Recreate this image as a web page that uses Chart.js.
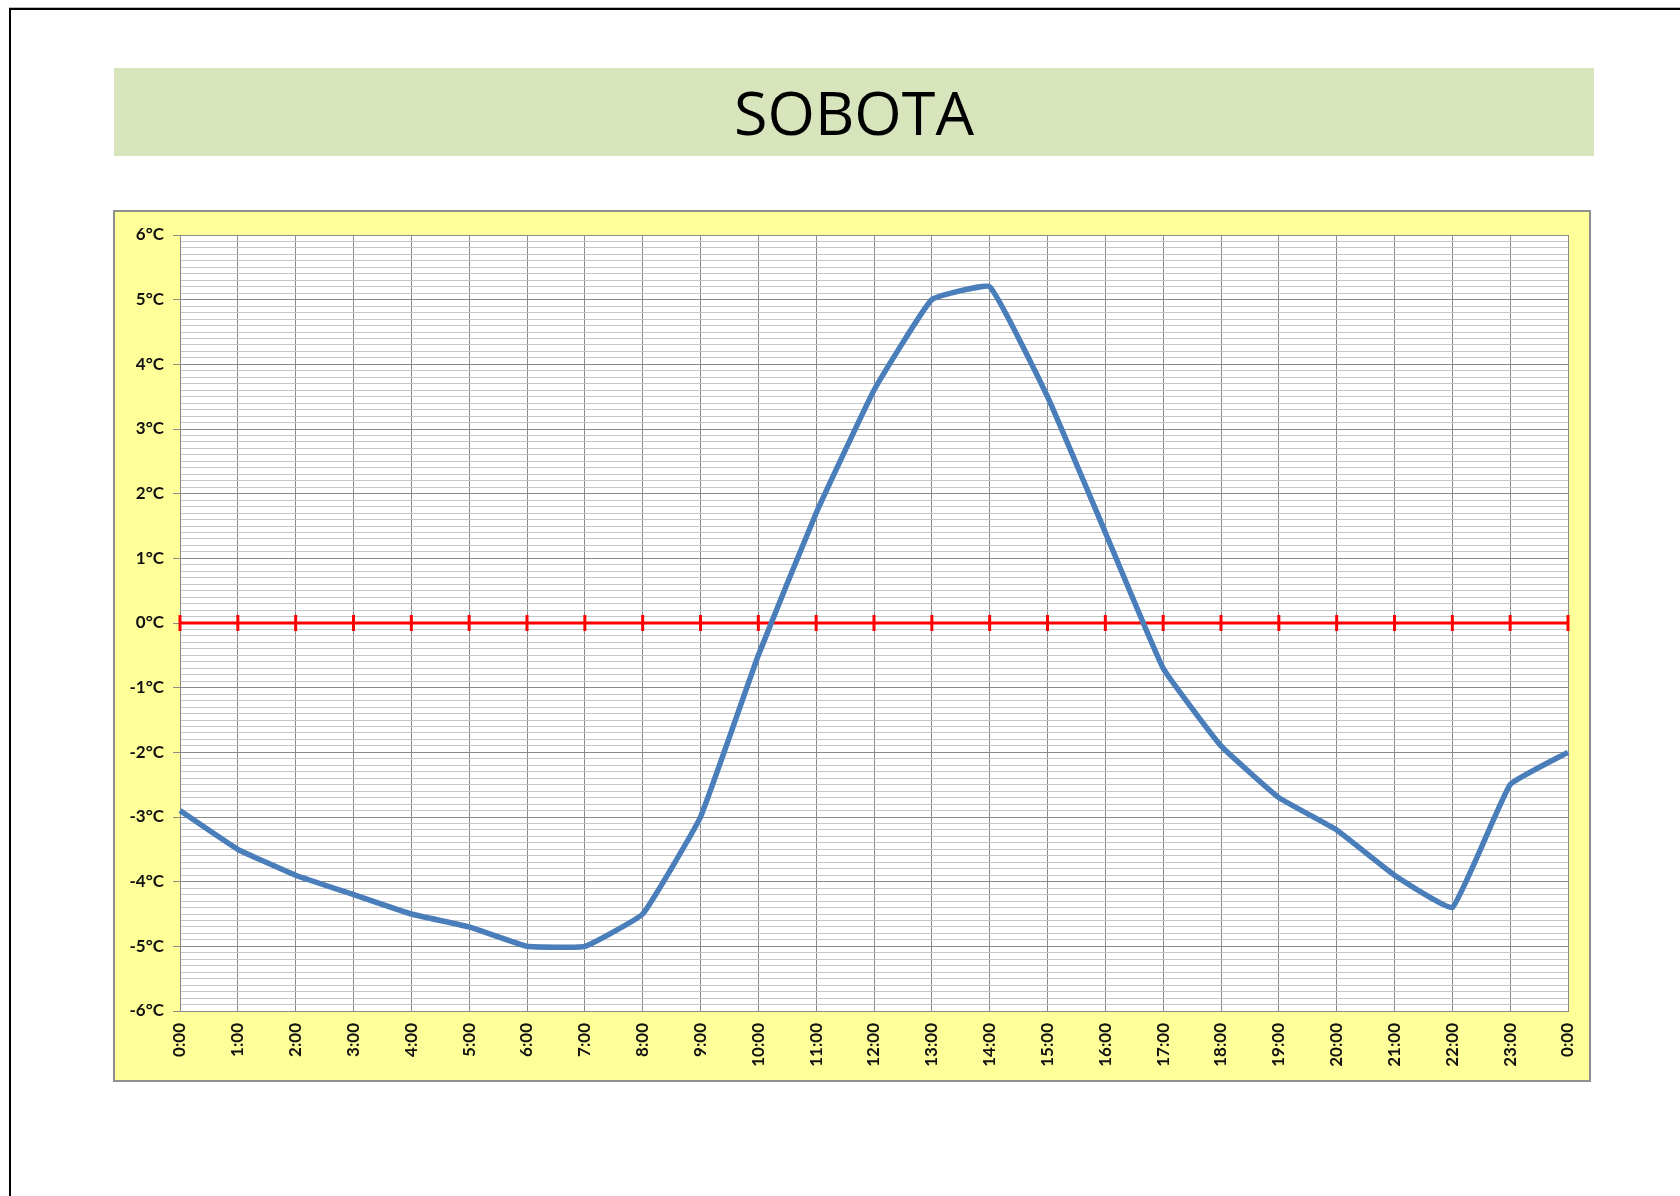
<!DOCTYPE html>
<html>
<head>
<meta charset="utf-8">
<title>SOBOTA</title>
<script src="https://cdn.jsdelivr.net/npm/chart.js@4/dist/chart.umd.min.js"></script>
<style>
  html, body { margin: 0; padding: 0; background: #fff; }
  body { width: 1680px; height: 1196px; position: relative; overflow: hidden; }
  .page {
    position: absolute; left: 9px; top: 8px; width: 1700px; height: 1220px;
    border-left: 2px solid #000; border-top: 2px solid #000;
    box-shadow: 0 -1px 0 #bbb;
  }
  .title {
    position: absolute; left: 114px; top: 68px; width: 1480px; height: 88px;
    background: #D7E4BC;
    font-family: 'Open Sans', sans-serif; font-size: 61px; color: #000;
    line-height: 88px; text-align: center;
  }
  .chart-box {
    position: absolute; left: 113px; top: 210px; width: 1478px; height: 872px;
    box-sizing: border-box; border: 2px solid #8f8f8f; background: #FFFF99;
  }
  .chart-box canvas { position: absolute; left: 0; top: 0; }
</style>
</head>
<body>
<div class="page"></div>
<div class="title">SOBOTA</div>
<div class="chart-box">
  <canvas id="chart-temp" width="1474" height="868" style="width:1474px;height:868px"></canvas>
</div>
<script>
'use strict';

/* ─── Data ──────────────────────────────────────────────────── */
const HOURS = ['0:00', '1:00', '2:00', '3:00', '4:00', '5:00', '6:00', '7:00',
  '8:00', '9:00', '10:00', '11:00', '12:00', '13:00', '14:00', '15:00', '16:00',
  '17:00', '18:00', '19:00', '20:00', '21:00', '22:00', '23:00', '0:00'];

const TEMPS = [-2.9, -3.5, -3.9, -4.2, -4.5, -4.7, -5.0, -5.0, -4.5, -3.0, -0.5,
  1.7, 3.6, 5.0, 5.2, 3.5, 1.4, -0.7, -1.9, -2.7, -3.2, -3.9, -4.4, -2.5, -2.0];

const ZERO_LINE = [0, 0, 0, 0, 0, 0, 0, 0, 0, 0, 0, 0, 0, 0, 0, 0, 0, 0, 0, 0, 0, 0, 0, 0, 0];

const Y_MIN = -6;
const Y_MAX = 6;
const Y_MINOR = 0.1;

(function () {
  const isMajor = v => Math.abs(v - Math.round(v)) < 1e-6;

  /* white plot area inside the yellow chart box */
  const plotBg = {
    id: 'plotBg',
    beforeDraw(chart) {
      const { ctx, chartArea: a } = chart;
      ctx.save();
      ctx.fillStyle = '#ffffff';
      ctx.fillRect(a.left, a.top, a.right - a.left, a.bottom - a.top);
      ctx.restore();
    },
  };

  Chart.defaults.font.family = "'Lato','Liberation Sans',sans-serif";
  Chart.defaults.font.size   = 17;
  Chart.defaults.font.weight = 'bold';
  Chart.defaults.color       = '#111';

  const ctx = document.getElementById('chart-temp').getContext('2d');

  new Chart(ctx, {
    type: 'line',
    plugins: [plotBg],
    data: {
      labels: HOURS,
      datasets: [
        {
          label: 'Teplota',
          data: TEMPS,
          borderColor: '#4A7EBB',
          borderWidth: 5.5,
          pointRadius: 0,
          tension: 0.1,
          fill: false,
        },
        {
          label: '0',
          data: ZERO_LINE,
          borderColor: '#FF0000',
          borderWidth: 3,
          pointStyle: 'line',
          rotation: 90,
          pointRadius: 8,
          pointBorderWidth: 3,
          pointBorderColor: '#FF0000',
          pointBackgroundColor: '#FF0000',
          clip: false,
          fill: false,
        },
      ],
    },
    options: {
      responsive: false,
      animation: false,
      events: [],
      layout: { padding: { left: 0, right: 21, top: 23, bottom: 0 } },
      plugins: {
        legend: { display: false },
        tooltip: { enabled: false },
      },
      scales: {
        x: {
          offset: false,
          grid: { color: '#8a8a8a', lineWidth: 1, drawTicks: false },
          border: { color: '#8a8a8a' },
          ticks: {
            autoSkip: false,
            minRotation: 90,
            maxRotation: 90,
            padding: 12,
          },
          afterFit: s => {
            s.height = 69;
            s.paddingLeft = 0;
            s.paddingRight = 0;
          },
        },
        y: {
          min: Y_MIN,
          max: Y_MAX,
          grid: {
            color: c => isMajor(c.tick.value) ? '#8a8a8a' : '#c6c6c6',
            tickColor: c => isMajor(c.tick.value) ? '#8a8a8a' : 'rgba(0,0,0,0)',
            lineWidth: 1,
            tickLength: 7,
          },
          border: { color: '#8a8a8a' },
          ticks: {
            stepSize: Y_MINOR,
            maxTicksLimit: 200,
            autoSkip: false,
            padding: 9,
            callback: v => isMajor(v) ? `${Math.round(v)}°C` : '',
          },
          afterFit: s => {
            s.width = 65;
            s.paddingTop = 0;
            s.paddingBottom = 0;
          },
        },
      },
    },
  });
})();
</script>
</body>
</html>
